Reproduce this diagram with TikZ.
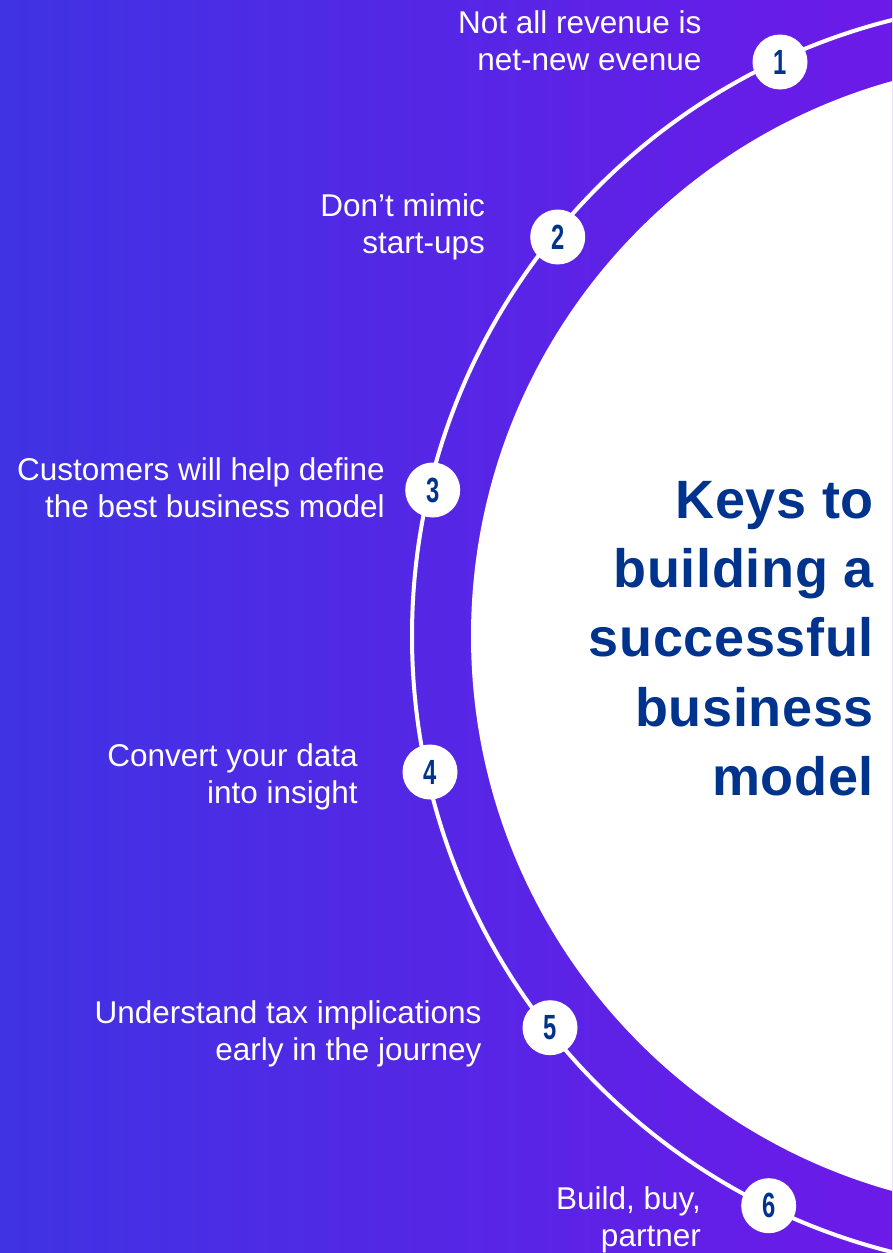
\documentclass[tikz,border=0pt]{standalone}
\usepackage{fontspec}
\setmainfont{Liberation Sans}
\newfontfamily\titlefont{Liberation Sans}[LetterSpace=1.2]
\usepackage{graphicx}
\definecolor{bgleft}{RGB}{63,51,227}
\definecolor{bgright}{RGB}{108,26,232}
\definecolor{kblue}{RGB}{0,51,141}
\tikzset{
  numdot/.style={circle, fill=white, minimum size=55pt, inner sep=0pt, text=kblue,
    font=\fontsize{35}{35}\selectfont\bfseries},
  keylabel/.style={anchor=base east, inner sep=0pt, text=white,
    font=\fontsize{31.5}{37}\selectfont},
  titletext/.style={anchor=base east, inner sep=0pt, text=kblue,
    font=\titlefont\fontsize{54}{69.3}\selectfont\bfseries},
  ringline/.style={white, line width=4pt},
}
\newcommand{\cnum}[1]{\scalebox{0.68}[1]{#1}}
\newcommand{\twolines}[2]{\begin{tabular}[t]{@{}r@{}}#1\\#2\end{tabular}}
\begin{document}
\begin{tikzpicture}[x=1pt,y=-1pt]
\useasboundingbox (0,0) rectangle (892,1253);
\fill[left color=bgleft,right color=bgright] (0,0) rectangle (892,1253);
\begin{scope}
  \clip (0,0) rectangle (892,1253);
  \coordinate (c) at (1047,636);
  \draw[ringline] (c) circle (635);
  \fill[white] (c) circle (576);
\end{scope}
% numbered markers
\node[numdot] (n1) at (780,62)     {\cnum{1}};
\node[numdot] (n2) at (557.7,237)  {\cnum{2}};
\node[numdot] (n3) at (432.7,490)  {\cnum{3}};
\node[numdot] (n4) at (430,772)    {\cnum{4}};
\node[numdot] (n5) at (550,1027.7) {\cnum{5}};
\node[numdot] (n6) at (768.7,1205.7) {\cnum{6}};
% labels
\node[keylabel] (l1) at (701.7,33)   {\twolines{Not all revenue is}{net-new evenue}};
\node[keylabel] (l2) at (485,216.7)  {\twolines{Don’t mimic}{start-ups}};
\node[keylabel] (l3) at (385,480)    {\twolines{Customers will help define}{the best business model}};
\node[keylabel] (l4) at (358,766.7)  {\twolines{Convert your data}{into insight}};
\node[keylabel] (l5) at (481.7,1023) {\twolines{Understand tax implications}{early in the journey}};
\node[keylabel] (l6) at (701,1209.3) {\twolines{Build, buy,}{partner}};
% title
\node[titletext] (title) at (874,518.3)
  {\begin{tabular}[t]{@{}r@{}}Keys to\\building a\\successful\\business\\model\end{tabular}};
\end{tikzpicture}
\end{document}
